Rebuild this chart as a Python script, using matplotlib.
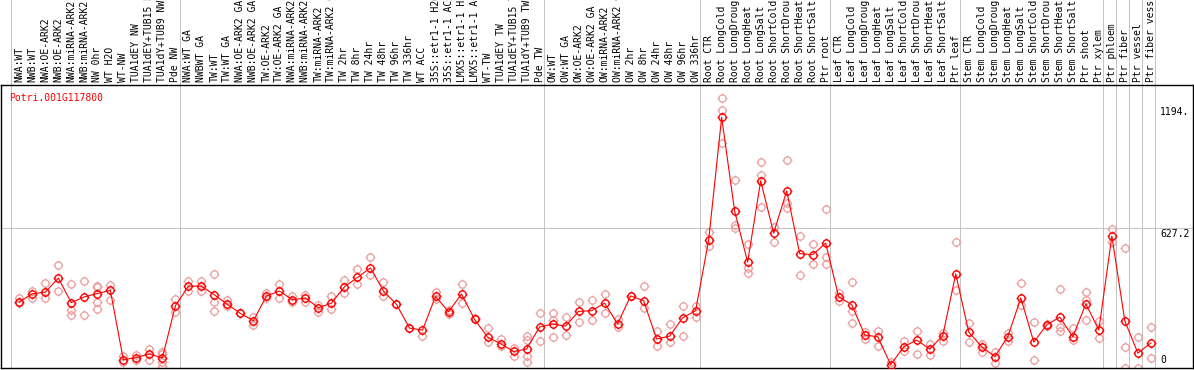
import matplotlib
matplotlib.use("Agg")
import matplotlib.pyplot as plt
from matplotlib.path import Path

GENE = "Potri.001G117800"

SAMPLES = [
    "NWA:WT", "NWB:WT", "NWA:OE-ARK2", "NWB:OE-ARK2", "NWA:miRNA-ARK2", "NWB:miRNA-ARK2",
    "NW 0hr", "WT H2O", "WT-NW", "TUA1dEY NW", "TUA1dEY+TUB15 NW", "TUA1dY+TUB9 NW", "Pde NW",
    "NWA:WT GA", "NWBWT GA", "TW:WT", "TW:WT GA", "NWA:OE-ARK2 GA", "NWB:OE-ARK2 GA",
    "TW:OE-ARK2", "TW:OE-ARK2 GA", "NWA:miRNA-ARK2 GA", "NWB:miRNA-ARK2 GA", "TW:miRNA-ARK2",
    "TW:miRNA-ARK2 GA", "TW 2hr", "TW 8hr", "TW 24hr", "TW 48hr", "TW 96hr", "TW 336hr",
    "WT ACC", "35S::etr1-1 H2O", "35S::etr1-1 ACC", "LMX5::etr1-1 H2O", "LMX5::etr1-1 ACC",
    "WT-TW", "TUA1dEY TW", "TUA1dEY+TUB15 TW", "TUA1dY+TUB9 TW", "Pde TW",
    "OW:WT", "OW:WT GA", "OW:OE-ARK2", "OW:OE-ARK2 GA", "OW:miRNA-ARK2", "OW:miRNA-ARK2 GA",
    "OW 2hr", "OW 8hr", "OW 24hr", "OW 48hr", "OW 96hr", "OW 336hr",
    "Root CTR", "Root LongCold", "Root LongDrought", "Root LongHeat", "Root LongSalt",
    "Root ShortCold", "Root ShortDrought", "Root ShortHeat", "Root ShortSalt", "Ptr root",
    "Leaf CTR", "Leaf LongCold", "Leaf LongDrought", "Leaf LongHeat", "Leaf LongSalt",
    "Leaf ShortCold", "Leaf ShortDrought", "Leaf ShortHeat", "Leaf ShortSalt", "Ptr leaf",
    "Stem CTR", "Stem LongCold", "Stem LongDrought", "Stem LongHeat", "Stem LongSalt",
    "Stem ShortCold", "Stem ShortDrought", "Stem ShortHeat", "Stem ShortSalt", "Ptr shoot",
    "Ptr xylem", "Ptr phloem", "Ptr fiber", "Ptr vessel", "Ptr fiber vessel",
]

# mean expression per sample
MEANS = [
    296, 333, 340, 403, 293, 319, 334, 348, 37, 47, 63, 45, 279,
    367, 367, 328, 285, 245, 212, 323, 345, 306, 314, 270, 291, 364, 406, 449, 345, 285,
    179, 170, 321, 252, 332, 218, 139, 109, 74, 85, 184,
    197, 188, 254, 257, 291, 198, 323, 302, 130, 143, 225, 257,
    573, 1124, 703, 475, 839, 605, 794, 513, 508, 560,
    319, 284, 148, 140, 15, 95, 125, 85, 145, 422,
    161, 95, 51, 140, 314, 116, 194, 228, 140, 288,
    170, 591, 211, 67, 112,
]

# individual replicates per sample
REPLICATES = [
    [316, 291], [346, 314], [381, 316], [461, 346], [378, 261, 237], [391, 237],
    [369, 363, 296, 266], [373, 305], [54, 27], [58, 36], [85, 36], [73, 61, 27, 7],
    [309, 252], [391, 346], [388, 346], [422, 297, 257], [307, 280], [245], [228, 195],
    [337, 314], [378, 312], [321, 294], [328, 297], [284, 249], [321, 264], [396, 336],
    [445, 378], [499, 419], [385, 324], [285], [179], [145], [340, 310], [258, 243],
    [376, 293], [224], [179, 116], [131, 97], [90, 55], [142, 127, 52, 25], [246, 121],
    [246, 213, 139], [227, 146], [296, 206], [306, 216], [332, 246], [221, 184], [323],
    [367, 267], [167, 97], [197, 118], [143, 279], [280, 227],
    [609, 549], [1210, 1157, 1008], [844, 642, 627], [556, 448, 426], [923, 866, 721],
    [634, 563], [932, 739, 717], [593, 418], [556, 466], [712, 499, 466],
    [336, 302], [387, 254, 203], [163, 130], [164, 100], [25], [119, 74], [164, 65],
    [109, 58], [157, 122], [564, 351],
    [202, 115], [106, 72], [72, 22], [157, 119], [381, 284], [206, 36], [198, 190],
    [354, 164, 182], [179, 127], [340, 306, 216],
    [211, 134], [623, 567], [538, 95, 0], [140, 0], [184, 45],
]

# sample counts after which a separator is drawn
GROUP_EDGES = [0, 13, 41, 53, 63, 73, 84, 85, 86, 87, 88]

Y_TICKS = [0, 627.2, 1194]
Y_TICK_TEXT = ["0", "627.2", "1194."]

RED = "#ff0000"
PINK = "#eb9c9c"
GRID = "#c4c4c4"
MONO = "DejaVu Sans Mono"


def make_marker():
    circ = Path.unit_circle()
    r = 1.35
    verts = [(0, 1), (0, r), (0, -1), (0, -r), (1, 0), (r, 0), (-1, 0), (-r, 0)]
    codes = [Path.MOVETO, Path.LINETO] * 4
    return Path.make_compound_path(circ, Path(verts, codes))


def main():
    fig = plt.figure(figsize=(11.94, 3.70), dpi=100)
    ax = fig.add_axes([1 / 1194, 2 / 370, 1192 / 1194, 283 / 370])

    x = list(range(len(SAMPLES)))
    ax.set_xlim(-1.407, 90.24)
    ax.set_ylim(0, 1269)

    for k in GROUP_EDGES:
        ax.axvline(k - 0.661, ymin=0, ymax=1 + 90 / 283, color=GRID, lw=0.7,
                   clip_on=False, zorder=0, antialiased=False)
    ax.axhline(627.2, color=GRID, lw=0.7, zorder=0, antialiased=False)

    marker = make_marker()
    rx, ry = [], []
    for i, reps in enumerate(REPLICATES):
        for v in reps:
            rx.append(i)
            ry.append(v)
    ax.plot(rx, ry, ls='none', marker=marker, ms=7, mfc='none', mec=PINK, mew=0.9, zorder=2)
    ax.plot(x, MEANS, color=RED, lw=0.8, marker=marker, ms=7, mfc='none', mec=RED,
            mew=1.0, zorder=3)

    ax.set_xticks(x)
    ax.set_xticklabels(SAMPLES, rotation=90, fontfamily=MONO, fontsize=7)
    ax.xaxis.tick_top()
    ax.tick_params(axis='x', length=0, pad=2)
    ax.set_yticks([])

    # value labels sit inside the plot at the right edge
    offsets = [(3, 'bottom'), (-1, 'top'), (-5, 'top')]
    for v, t, (dy, va) in zip(Y_TICKS, Y_TICK_TEXT, offsets):
        ax.annotate(t, xy=(1161 / 1194, v), xycoords=ax.get_yaxis_transform(),
                    xytext=(0, dy), textcoords='offset pixels', ha='left', va=va,
                    fontfamily=MONO, fontsize=7, annotation_clip=False)

    ax.text(8 / 1194, 1 - 8 / 283, GENE, transform=ax.transAxes, ha='left', va='top',
            fontfamily=MONO, fontsize=7, color=RED)

    for s in ax.spines.values():
        s.set_linewidth(1.0)

    plt.savefig("out.png", dpi=100)
    plt.close('all')


if __name__ == '__main__':
    main()
